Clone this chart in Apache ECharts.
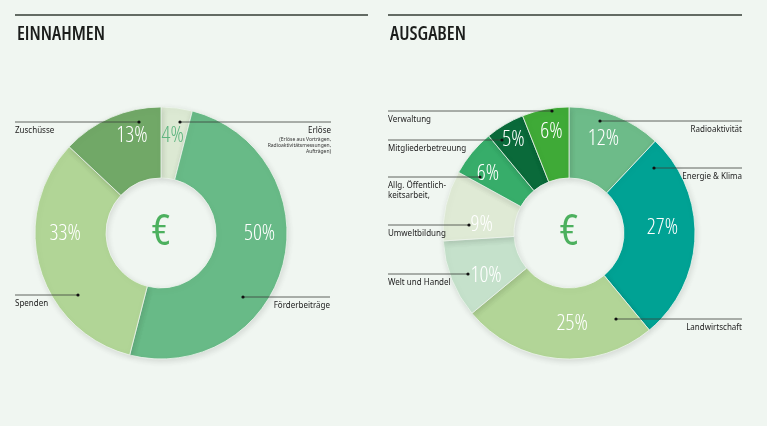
<!DOCTYPE html>
<html>
<head>
<meta charset="utf-8">
<script src="https://cdn.jsdelivr.net/npm/echarts@6/dist/echarts.min.js"></script>
<style>
  html, body { margin: 0; padding: 0; background: #f0f6f1; }
  #chart { width: 767px; height: 426px; }
</style>
</head>
<body>
<div id="chart"></div>
<script>
// Einnahmen (income) shares, clockwise from 12 o'clock
const incomeNames = ['Erlöse', 'Förderbeiträge', 'Spenden', 'Zuschüsse'];
const incomeValues = [4, 50, 33, 13];
const incomeColors = ['#dce9d3', '#68ba87', '#b1d596', '#71a867'];

// Ausgaben (expenses) shares, clockwise from 12 o'clock
const expenseNames = ['Radioaktivität', 'Energie & Klima', 'Landwirtschaft', 'Welt und Handel',
  'Umweltbildung', 'Allg. Öffentlichkeitsarbeit', 'Mitgliederbetreuung', 'Verwaltung'];
const expenseValues = [12, 27, 25, 10, 9, 6, 5, 6];
const expenseColors = ['#6dbb89', '#00a294', '#b2d597', '#c5e1cb', '#dfead5', '#37ad6a', '#0a6a3a', '#3faa37'];

// layout
const leftCenter = [161, 233];
const rightCenter = [569, 233];
const radius = [55, 126];
const incomeLabelOffsets = [[0, -5], [8, -23], [-6, -25], [8, -11]];
const expenseLabelOffsets = [[0, -7], [0, -8], [12, -2], [4, 8], [4, 12], [-9, 0], [-8, -13], [0, -9]];

const narrowFont = "'Open Sans', sans-serif";
const labelFont = "'Noto Sans', Lato, sans-serif";

// leader-line annotations: [text lines, dot x, line y, line end x, side]
const annotations = [
  [['Zuschüsse'], 139, 122, 15, 'left'],
  [['Erlöse'], 180, 122, 331, 'right'],
  [['Spenden'], 78, 295, 15, 'left'],
  [['Förderbeiträge'], 243, 297, 330, 'right'],
  [['Verwaltung'], 552, 111, 388, 'left'],
  [['Mitgliederbetreuung'], 502, 140, 388, 'left'],
  [['Allg. Öffentlich-', 'keitsarbeit,'], 480, 177, 388, 'left'],
  [['Umweltbildung'], 469, 225, 388, 'left'],
  [['Welt und Handel'], 468, 274, 388, 'left'],
  [['Radioaktivität'], 600, 121, 742, 'right'],
  [['Energie & Klima'], 654, 168, 742, 'right'],
  [['Landwirtschaft'], 616, 319, 742, 'right']
];

function makeData(names, values, colors, offsets, labelColors) {
  return values.map((v, i) => ({
    name: names[i],
    value: v,
    itemStyle: { color: colors[i] },
    label: { offset: offsets[i], color: (labelColors && labelColors[i]) || '#ffffff' }
  }));
}

const graphic = [];
// header rules and titles
[[15, 368, 17, 'EINNAHMEN'], [388, 742, 390, 'AUSGABEN']].forEach(h => {
  graphic.push({ type: 'line', z: 10, shape: { x1: h[0], y1: 15, x2: h[1], y2: 15 },
    style: { stroke: '#343c35', lineWidth: 1.5 }, silent: true });
  graphic.push({ type: 'text', z: 10, x: h[2], y: 25,
    style: { text: h[3], font: "condensed 600 19px " + narrowFont, fill: '#1b1d1b' } });
});
// centre euro signs
[leftCenter, rightCenter].forEach(c => {
  graphic.push({ type: 'text', z: 10, x: c[0], y: c[1] - 1,
    style: { text: '€', font: "condensed 500 44px " + narrowFont, fill: '#4cb05e',
      align: 'center', verticalAlign: 'middle' } });
});
annotations.forEach(a => {
  const [lines, dotX, y, endX, side] = a;
  graphic.push({ type: 'line', z: 10, shape: { x1: dotX, y1: y, x2: endX, y2: y },
    style: { stroke: '#3a3f3a', lineWidth: 0.8 }, silent: true });
  graphic.push({ type: 'circle', z: 10, shape: { cx: dotX, cy: y, r: 1.6 }, style: { fill: '#111' } });
  graphic.push({ type: 'text', z: 10, x: endX, y: y + 4,
    style: { text: lines.join('\n'), font: "8px " + labelFont, fill: '#222', lineHeight: 10,
      align: side === 'left' ? 'left' : 'right' } });
});
// small note under Erlöse
graphic.push({ type: 'text', z: 10, x: 331, y: 137,
  style: { text: '(Erlöse aus Vorträgen,\nRadioaktivitätsmessungen,\nAufträgen)', font: "5px " + labelFont,
    fill: '#333', lineHeight: 6, align: 'right' } });

const pieBase = {
  type: 'pie',
  radius: radius,
  startAngle: 90,
  clockwise: true,
  avoidLabelOverlap: false,
  silent: true,
  itemStyle: { borderColor: '#eef5ee', borderWidth: 0.8,
    shadowBlur: 6, shadowColor: 'rgba(0,0,0,0.12)', shadowOffsetX: 1, shadowOffsetY: 2 },
  label: { show: true, position: 'inside', formatter: '{c}%',
    fontStyle: 'condensed', fontWeight: 300, fontFamily: narrowFont, fontSize: 22 },
  labelLine: { show: false }
};

const chart = echarts.init(document.getElementById('chart'));
chart.setOption({
  backgroundColor: '#f0f6f1',
  animation: false,
  graphic: graphic,
  series: [
    Object.assign({}, pieBase, {
      center: leftCenter,
      data: makeData(incomeNames, incomeValues, incomeColors, incomeLabelOffsets, ['#5db47e'])
    }),
    Object.assign({}, pieBase, {
      center: rightCenter,
      data: makeData(expenseNames, expenseValues, expenseColors, expenseLabelOffsets)
    })
  ]
});
</script>
</body>
</html>
